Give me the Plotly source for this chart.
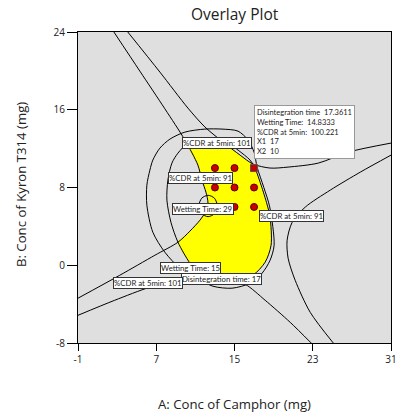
import plotly.graph_objects as go

# axis ticks
x_ticks = [-1, 7, 15, 23, 31]
y_ticks = [-8, 0, 8, 16, 24]

# design points
design_x = [13, 15, 17, 13, 15, 17, 13, 15]
design_y = [6, 6, 6, 8, 8, 8, 10, 10]
flag_x = [17]
flag_y = [10]

# contour curves (data units)
cdr91_left_x = [2.67, 5.32, 7.88, 9.93, 11.26, 11.67, 12.08, 12.29, 12.08, 11.47, 10.44, 9.22, 6.86, 3.27, -1.0]
cdr91_left_y = [24.0, 19.98, 16.1, 12.88, 10.3, 8.76, 7.52, 6.39, 5.57, 4.64, 3.51, 2.37, 1.03, -1.03, -3.39]

cdr91_right_x = [31.0, 27.86, 24.79, 22.23, 20.9, 20.38, 20.48, 21.2, 22.74, 25.1]
cdr91_right_y = [11.33, 9.58, 7.73, 5.98, 4.43, 2.58, 0.73, -1.54, -4.84, -8.0]

cdr101_up_x = [4.09, 7.37, 10.24, 11.98, 13.83, 15.57, 16.9, 18.64, 20.48, 23.56, 26.63, 31.0]
cdr101_up_y = [24.0, 19.88, 16.17, 14.22, 12.67, 11.33, 10.41, 10.0, 10.1, 10.51, 11.64, 12.57]

cdr101_low_x = [-1.0, 2.76, 6.35, 9.42, 11.98, 14.03, 16.08, 18.13, 20.69, 22.84]
cdr101_low_y = [-5.15, -3.6, -2.26, -1.54, -1.23, -1.33, -1.95, -3.6, -5.87, -8.0]

wet15_x = [6.65, 7.37, 8.40, 9.93, 11.98, 13.72, 15.36, 16.39, 17.0, 17.31, 18.0, 18.6, 19.05, 18.64, 17.82, 16.59, 14.75, 12.80, 11.16, 9.42, 7.88, 6.65, 6.04, 6.04, 6.35, 6.65]
wet15_y = [10.82, 12.05, 12.98, 13.7, 14.01, 14.01, 13.8, 12.88, 11.64, 10.1, 8.0, 6.0, 2.06, 0.52, -0.82, -1.85, -2.36, -2.16, -1.33, -0.3, 1.34, 3.4, 6.18, 8.24, 9.79, 10.82]

dt17_x = [10.24, 11.47, 12.70, 14.03, 15.36, 16.59, 17.05, 17.8, 18.4, 18.64, 18.74, 18.13, 16.9, 15.57, 13.52, 11.47, 10.44, 9.22, 8.5, 8.09, 8.19, 8.6, 9.22, 10.24]
dt17_y = [12.57, 12.98, 13.08, 12.77, 11.85, 10.82, 10.1, 8.0, 6.0, 4.95, 2.06, 0.31, -1.03, -1.64, -1.75, -1.13, 0.21, 2.37, 4.43, 6.7, 8.76, 10.51, 11.54, 12.57]

wet29_x = [12.3, 12.95, 13.25, 12.95, 12.3, 11.65, 11.35, 11.65, 12.3]
wet29_y = [7.2, 6.9, 6.1, 5.3, 5.0, 5.3, 6.1, 6.9, 7.2]

yellow_x = [10.1, 11.47, 12.70, 13.6, 15.57, 16.85, 17.05, 17.8, 18.4, 18.64, 18.74, 18.13, 16.9, 15.57, 15.0, 14.03, 12.5, 11.9, 11.47, 10.44, 9.22, 10.44, 11.47, 12.08, 12.29, 12.08, 11.67, 11.26, 10.1]
yellow_y = [12.6, 12.98, 13.08, 12.85, 11.33, 10.42, 10.1, 8.0, 6.0, 4.95, 2.06, 0.31, -1.03, -1.64, -1.65, -1.33, -1.24, -1.26, -1.13, 0.21, 2.37, 3.51, 4.64, 5.57, 6.39, 7.52, 8.76, 10.3, 12.6]

labels = [
    ("%CDR at 5min: 91", 11.57, 8.96),
    ("Wetting Time: 29", 11.78, 5.77),
    ("%CDR at 5min: 91", 20.78, 5.05),
    ("Wetting Time: 15", 10.54, -0.3),
    ("Disintegration time: 17", 13.72, -1.44),
    ("%CDR at 5min: 101", 6.15, -1.85),
]
top_label = ("%CDR at 5min: 101", 16.8, 12.57)
tooltip_lines = ["Disintegration time  17.3611", "Wetting Time:  14.8333",
                 "%CDR at 5min:  100.221", "X1  17", "X2  10"]
tooltip_pos = (17.0, 16.48)

FONT = "Lato"
TFONT = "Open Sans"
fig = go.Figure()

fig.add_trace(go.Scatter(x=yellow_x, y=yellow_y, fill="toself", fillcolor="#ffff00",
                         mode="lines", line=dict(width=0, shape="spline", smoothing=0.6),
                         hoverinfo="skip", showlegend=False))

for cx, cy in [(cdr91_left_x, cdr91_left_y), (cdr91_right_x, cdr91_right_y),
               (cdr101_up_x, cdr101_up_y), (cdr101_low_x, cdr101_low_y),
               (wet15_x, wet15_y), (dt17_x, dt17_y), (wet29_x, wet29_y)]:
    fig.add_trace(go.Scatter(x=cx, y=cy, mode="lines",
                             line=dict(color="black", width=1, shape="spline", smoothing=0.8),
                             hoverinfo="skip", showlegend=False))

fig.add_trace(go.Scatter(x=design_x, y=design_y, mode="markers",
                         marker=dict(size=7, color="#c80000", line=dict(color="#600000", width=1)),
                         showlegend=False))
fig.add_trace(go.Scatter(x=flag_x, y=flag_y, mode="markers",
                         marker=dict(size=7, symbol="square", color="#c80000", line=dict(color="#555555", width=1)),
                         showlegend=False))

annots = []
def lab(text, x, y, xanchor="center"):
    return dict(x=x, y=y, xref="x", yref="y", text=text, showarrow=False,
                xanchor=xanchor, yanchor="middle",
                font=dict(family=FONT, size=7.8, color="#222"),
                bgcolor="white", bordercolor="#333", borderwidth=1, borderpad=0)

annots.append(lab(top_label[0], top_label[1], top_label[2], xanchor="right"))
for t, x, y in labels:
    annots.append(lab(t, x, y))
annots.append(dict(x=tooltip_pos[0], y=tooltip_pos[1], xref="x", yref="y",
                   text="<br>".join(tooltip_lines), showarrow=False,
                   xanchor="left", yanchor="top", align="left",
                   font=dict(family=FONT, size=7.5, color="#222"),
                   bgcolor="white", bordercolor="#999", borderwidth=1, borderpad=2))
annots.append(dict(x=-0.18, y=0.51, xref="paper", yref="paper", text="B: Conc of Kyron T314 (mg)",
                   textangle=-90, showarrow=False, xanchor="center", yanchor="middle",
                   font=dict(family=TFONT, size=13.2, color="#222")))
annots.append(dict(x=0.5, y=-0.195, xref="paper", yref="paper", text="A: Conc of Camphor (mg)",
                   showarrow=False, xanchor="center", yanchor="middle",
                   font=dict(family=TFONT, size=13.2, color="#222")))

fig.update_layout(
    width=399, height=415,
    margin=dict(l=78, r=8, t=32, b=72, autoexpand=False),
    paper_bgcolor="white", plot_bgcolor="#dfdfdf",
    title=dict(text="Overlay Plot", x=0.588, xanchor="center", y=0.966, yanchor="middle",
               font=dict(family=TFONT, size=15.5, color="#222")),
    annotations=annots,
    showlegend=False,
)
fig.update_xaxes(range=[-1, 31], tickvals=x_ticks, ticktext=[str(v) for v in x_ticks],
                 showgrid=False, zeroline=False, showline=True, linecolor="black", linewidth=1,
                 mirror=True, ticks="outside", ticklen=7, tickcolor="black", automargin=False,
                 tickfont=dict(family=TFONT, size=10, color="#222"))
fig.update_yaxes(range=[-8, 24], tickvals=y_ticks, ticktext=[str(v) for v in y_ticks],
                 showgrid=False, zeroline=False, showline=True, linecolor="black", linewidth=1,
                 mirror=True, ticks="outside", ticklen=10, tickcolor="black", automargin=False,
                 tickfont=dict(family=TFONT, size=10, color="#222"))

fig.write_html("out.html")
